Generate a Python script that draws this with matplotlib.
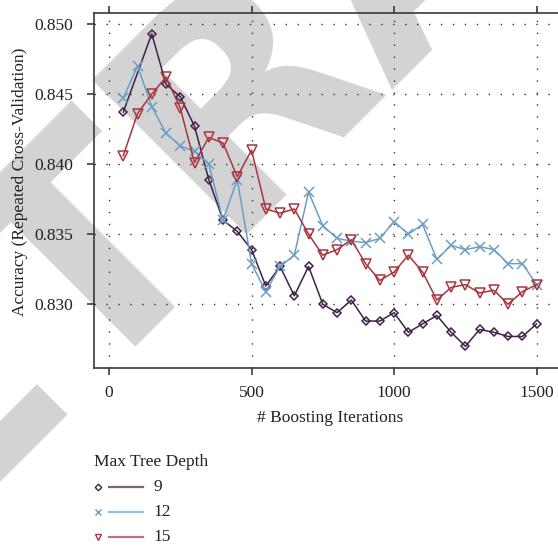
import numpy as np
import matplotlib
matplotlib.use("Agg")
import matplotlib.pyplot as plt
from matplotlib.lines import Line2D

# boosting iterations on the x axis
iterations = np.arange(50, 1501, 50)

# accuracy per max tree depth (depth 9 has no value at 100 iterations)
acc_depth9 = [0.8437, np.nan, 0.8493, 0.8457, 0.8448, 0.8427, 0.8389, 0.8360, 0.8352, 0.8339,
              0.8313, 0.8327, 0.8306, 0.8327, 0.8300, 0.8294, 0.8303, 0.8288, 0.8288, 0.8294,
              0.8280, 0.8286, 0.8292, 0.8280, 0.8270, 0.8282, 0.8280, 0.8277, 0.8277, 0.8286]
acc_depth12 = [0.8447, 0.8470, 0.8441, 0.8422, 0.8413, 0.8409, 0.8400, 0.8360, 0.8389, 0.8329,
               0.8309, 0.8327, 0.8335, 0.8380, 0.8356, 0.8347, 0.8345, 0.8344, 0.8347, 0.8359,
               0.8350, 0.8357, 0.8332, 0.8342, 0.8339, 0.8341, 0.8339, 0.8329, 0.8329, 0.8314]
acc_depth15 = [0.8406, 0.8436, 0.8450, 0.8462, 0.8440, 0.8401, 0.8419, 0.8415, 0.8391, 0.8410,
               0.8368, 0.8365, 0.8368, 0.8350, 0.8335, 0.8339, 0.8346, 0.8329, 0.8317, 0.8323,
               0.8335, 0.8323, 0.8303, 0.8312, 0.8314, 0.8308, 0.8310, 0.8300, 0.8309, 0.8314]

depth_labels = ["9", "12", "15"]
x_ticks = [0, 500, 1000, 1500]
y_ticks = [0.830, 0.835, 0.840, 0.845, 0.850]

colors = ["#3f2149", "#6d9ec6", "#a8353f"]
markers = ["D", "x", "v"]
msizes = [4.5, 6.5, 6.5]

W, H = 558, 546
plt.rcParams["font.family"] = ["Liberation Serif", "DejaVu Serif"]


def fx(px):
    return px / W


def fy(py):
    return 1 - py / H


fig = plt.figure(figsize=(W / 100, H / 100), dpi=100)

# watermark behind everything
fig.text(fx(-232), fy(687), "RETRACTED", rotation=45, rotation_mode="anchor",
         ha="left", va="baseline", fontsize=216, color="#d3d3d3",
         family="DejaVu Sans", fontweight="bold", zorder=-5)

ax = fig.add_axes([fx(94), fy(368.3), (566 - 94) / W, (368.3 - 13) / H])
ax.patch.set_alpha(0)
ax.set_xlim(-52.6, 1603)
ax.set_ylim(0.82543, 0.85078)

for vals, col, mk, ms in zip([acc_depth9, acc_depth12, acc_depth15], colors, markers, msizes):
    vals = np.array(vals)
    ok = np.isfinite(vals)
    ax.plot(iterations[ok], vals[ok], color=col, lw=1.1, marker=mk, ms=ms,
            mfc="none", mec=col, mew=1.1, zorder=3)

ax.set_xticks(x_ticks)
ax.set_yticks(y_ticks)
ax.set_yticklabels([f"{v:.3f}" for v in y_ticks])
ax.grid(True, color="#333333", lw=1.0, linestyle=(0, (1, 7.6)), zorder=1)
ax.set_axisbelow(True)

for side in ["left", "bottom", "top"]:
    ax.spines[side].set_color("#3a3a3a")
    ax.spines[side].set_linewidth(1.2)
ax.spines["right"].set_visible(False)
ax.tick_params(axis="both", direction="out", length=5, width=1.2, color="#3a3a3a",
               labelsize=12.5, labelcolor="#222222")
ax.tick_params(axis="x", top=True, labeltop=False, pad=7)
ax.tick_params(axis="y", pad=10)

fig.text(fx(20), fy(182), "Accuracy (Repeated Cross-Validation)", rotation=90,
         ha="center", va="center", fontsize=12.5, color="#222222")
fig.text(fx(330), fy(418.3), "# Boosting Iterations", ha="center", va="center",
         fontsize=12.5, color="#222222")

# legend below the panel
fig.text(fx(94), fy(461.7), "Max Tree Depth", ha="left", va="center",
         fontsize=12.5, color="#222222")
for i, (lab, col, mk) in enumerate(zip(depth_labels, colors, markers)):
    yy = fy(486.7 + 25 * i)
    fig.add_artist(Line2D([fx(98.3)], [yy], marker=mk, ms=[3.3, 5, 5][i], mfc="none",
                          mec=col, mew=1.0, ls="none", transform=fig.transFigure))
    fig.add_artist(Line2D([fx(109.3), fx(143.3)], [yy, yy], color=col, lw=1.6, alpha=0.7,
                          transform=fig.transFigure))
    fig.text(fx(153.3), yy, lab, ha="left", va="center", fontsize=12.5, color="#222222")

fig.savefig("out.png", dpi=100)
